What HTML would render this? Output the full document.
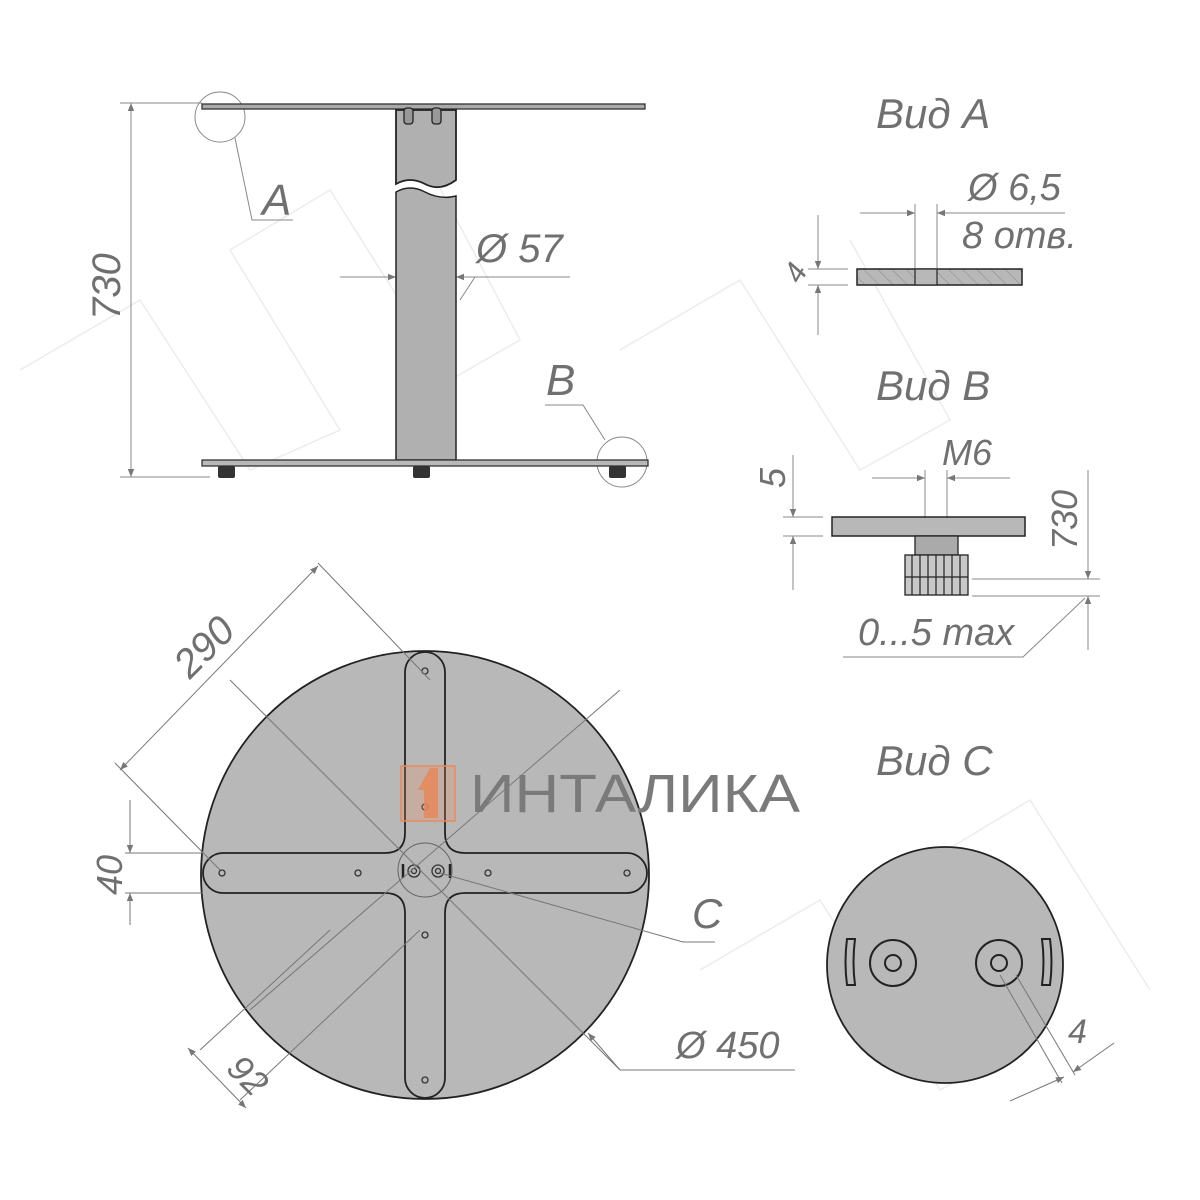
<!DOCTYPE html>
<html><head><meta charset="utf-8"><style>
html,body{margin:0;padding:0;background:#fff;}
svg{display:block;}
.t{font-family:"Liberation Sans","DejaVu Sans",sans-serif;font-style:italic;fill:#707070;}
</style></head><body>
<svg width="1200" height="1200" viewBox="0 0 1200 1200" xmlns="http://www.w3.org/2000/svg">
<defs>
<marker id="ar" viewBox="0 0 10 10" refX="10" refY="5" markerWidth="14" markerHeight="8" markerUnits="userSpaceOnUse" orient="auto-start-reverse"><path d="M0,1 L10,5 L0,9 z" fill="#777"/></marker>
<pattern id="hatch" width="10" height="10" patternUnits="userSpaceOnUse" patternTransform="rotate(-45)"><rect width="10" height="10" fill="#b8b8b8"/><line x1="0" y1="0" x2="0" y2="10" stroke="#888" stroke-width="1"/></pattern>
</defs>
<g stroke="#ececec" stroke-width="1.5" fill="none">
<path d="M20,370 L140,300 L250,470 L340,430 L230,250 L330,190 L450,380 L520,340 L420,150"/>
<path d="M620,350 L740,280 L860,470 L950,420 L850,240"/>
<path d="M700,970 L820,900 L940,1090 L1030,1040 L930,860 L1030,800 L1150,990"/>
</g>
<!-- ===== Side view ===== -->
<g stroke="#888" stroke-width="1" fill="none">
<line x1="120" y1="103" x2="202" y2="103"/>
<line x1="120" y1="477" x2="210" y2="477"/>
<line x1="131" y1="103" x2="131" y2="477" marker-start="url(#ar)" marker-end="url(#ar)"/>
<line x1="340" y1="277" x2="396" y2="277" marker-end="url(#ar)"/>
<line x1="570" y1="277" x2="456" y2="277" marker-end="url(#ar)"/>
<line x1="396" y1="277" x2="456" y2="277"/>
<line x1="475" y1="277" x2="460" y2="300"/>
<circle cx="220" cy="117" r="25"/>
<polyline points="235,138 252,220 293,220"/>
<circle cx="622" cy="462" r="25"/>
<polyline points="605,440 583,405 545,405"/>
</g>
<rect x="202" y="104" width="443" height="5" fill="#aaa" stroke="#333" stroke-width="1.3"/>
<path d="M396,110 L456,110 L456,180 Q440,192 425,184 Q410,176 396,184 Z" fill="#b0b0b0" stroke="#222" stroke-width="1.8"/>
<path d="M396,192 Q410,184 425,192 Q440,200 456,196 L456,460 L396,460 Z" fill="#b0b0b0" stroke="#222" stroke-width="1.5"/>
<rect x="404" y="108" width="9" height="16" rx="3" fill="#999" stroke="#222" stroke-width="1.3"/>
<rect x="432" y="108" width="9" height="16" rx="3" fill="#999" stroke="#222" stroke-width="1.3"/>
<rect x="202" y="460" width="446" height="6" fill="#b8b8b8" stroke="#333" stroke-width="1.3"/>
<g fill="#333"><rect x="218" y="466" width="17" height="12" rx="2"/><rect x="413" y="466" width="17" height="12" rx="2"/><rect x="609" y="466" width="17" height="12" rx="2"/></g>
<text class="t" x="0" y="0" font-size="40" transform="translate(120,320) rotate(-90)">730</text>
<text class="t" x="262" y="215" font-size="44">A</text>
<text class="t" x="546" y="395" font-size="44">B</text>
<text class="t" x="476" y="262" font-size="40">Ø 57</text>
<!-- ===== Вид А ===== -->
<text class="t" x="876" y="128" font-size="42">Вид А</text>
<g stroke="#888" stroke-width="1" fill="none">
<line x1="860" y1="213" x2="915" y2="213" marker-end="url(#ar)"/>
<line x1="1065" y1="213" x2="937" y2="213" marker-end="url(#ar)"/>
<line x1="915" y1="204" x2="915" y2="268"/><line x1="937" y1="204" x2="937" y2="268"/>
<line x1="808" y1="269" x2="848" y2="269"/><line x1="808" y1="285" x2="848" y2="285"/>
<line x1="818" y1="215" x2="818" y2="269" marker-end="url(#ar)"/>
<line x1="818" y1="335" x2="818" y2="285" marker-end="url(#ar)"/>
</g>
<rect x="857" y="269" width="165" height="16" fill="url(#hatch)" stroke="#222" stroke-width="1.5"/>
<rect x="915" y="269" width="22" height="16" fill="#b8b8b8" stroke="#222" stroke-width="1.2"/>
<text class="t" x="968" y="200" font-size="38">Ø 6,5</text>
<text class="t" x="962" y="248" font-size="38">8 отв.</text>
<text class="t" x="0" y="0" font-size="30" transform="translate(800,285) rotate(-60)">4</text>
<!-- ===== Вид B ===== -->
<text class="t" x="876" y="400" font-size="42">Вид B</text>
<g stroke="#888" stroke-width="1" fill="none">
<line x1="872" y1="478" x2="925" y2="478" marker-end="url(#ar)"/>
<line x1="1010" y1="478" x2="947" y2="478" marker-end="url(#ar)"/>
<line x1="925" y1="470" x2="925" y2="517"/><line x1="947" y1="470" x2="947" y2="517"/>
<line x1="783" y1="517" x2="823" y2="517"/><line x1="783" y1="536" x2="823" y2="536"/>
<line x1="793" y1="455" x2="793" y2="517" marker-end="url(#ar)"/>
<line x1="793" y1="590" x2="793" y2="536" marker-end="url(#ar)"/>
<line x1="972" y1="579" x2="1100" y2="579"/><line x1="972" y1="596" x2="1100" y2="596"/>
<line x1="1088" y1="470" x2="1088" y2="579" marker-end="url(#ar)"/>
<line x1="1088" y1="650" x2="1088" y2="596" marker-end="url(#ar)"/>
<polyline points="843,657 1023,657 1085,598"/>
</g>
<rect x="832" y="517" width="193" height="19" fill="#b8b8b8" stroke="#222" stroke-width="1.5"/>
<rect x="915" y="536" width="43" height="19" fill="#aaa" stroke="#222" stroke-width="1.3"/>
<rect x="905" y="555" width="63" height="40" fill="#c8c8c8" stroke="#222" stroke-width="1.3"/>
<g stroke="#222" stroke-width="1.2"><line x1="912" y1="555" x2="912" y2="595"/><line x1="920" y1="555" x2="920" y2="595"/><line x1="928" y1="555" x2="928" y2="595"/><line x1="936" y1="555" x2="936" y2="595"/><line x1="944" y1="555" x2="944" y2="595"/><line x1="952" y1="555" x2="952" y2="595"/><line x1="960" y1="555" x2="960" y2="595"/><line x1="905" y1="577" x2="968" y2="577"/></g>
<text class="t" x="942" y="465" font-size="36">M6</text>
<text class="t" x="0" y="0" font-size="36" transform="translate(785,488) rotate(-90)">5</text>
<text class="t" x="0" y="0" font-size="36" transform="translate(1077,550) rotate(-90)">730</text>
<text class="t" x="858" y="645" font-size="38">0...5 max</text>
<!-- ===== Bottom view ===== -->
<circle cx="425" cy="875" r="224" fill="#b8b8b8" stroke="#222" stroke-width="1.8"/>
<path d="M445,672 L445,833 Q445,853 465,853 L627,853 A20,20 0 0 1 627,893 L465,893 Q445,893 445,913 L445,1078 A20,20 0 0 1 405,1078 L405,913 Q405,893 385,893 L223,893 A20,20 0 0 1 223,853 L385,853 Q405,853 405,833 L405,672 A20,20 0 0 1 445,672 Z" fill="#b8b8b8" stroke="#222" stroke-width="1.8"/>
<circle cx="425" cy="870" r="27" fill="none" stroke="#666" stroke-width="1"/>
<g fill="none" stroke="#333" stroke-width="1.3">
<circle cx="425" cy="671" r="3"/><circle cx="425" cy="807" r="3"/><circle cx="425" cy="935" r="3"/><circle cx="425" cy="1080" r="3"/>
<circle cx="222" cy="873" r="3"/><circle cx="358" cy="873" r="3"/><circle cx="488" cy="873" r="3"/><circle cx="627" cy="873" r="3"/>
<circle cx="414" cy="871" r="6"/><circle cx="414" cy="871" r="2.5"/><circle cx="438" cy="871" r="6"/><circle cx="438" cy="871" r="2.5"/>
</g>
<g stroke="#222" stroke-width="2.5"><line x1="403" y1="864" x2="403" y2="878"/><line x1="450" y1="864" x2="450" y2="878"/></g>
<g stroke="#777" stroke-width="1" fill="none">
<line x1="318" y1="563" x2="430" y2="680"/>
<line x1="115" y1="763" x2="220" y2="870"/>
<line x1="120" y1="770" x2="318" y2="566" marker-start="url(#ar)" marker-end="url(#ar)"/>
<line x1="230" y1="680" x2="620" y2="1070"/>
<line x1="250" y1="1010" x2="620" y2="690"/>
<line x1="200" y1="1050" x2="330" y2="930"/>
<line x1="240" y1="1100" x2="420" y2="930"/>
<line x1="188" y1="1048" x2="246" y2="1108" marker-start="url(#ar)" marker-end="url(#ar)"/>
<line x1="125" y1="853" x2="203" y2="853"/><line x1="125" y1="893" x2="203" y2="893"/>
<line x1="130" y1="800" x2="130" y2="853" marker-end="url(#ar)"/>
<line x1="130" y1="925" x2="130" y2="893" marker-end="url(#ar)"/>
<line x1="440" y1="873" x2="683" y2="942"/><line x1="683" y1="942" x2="715" y2="942"/>
<line x1="620" y1="1070" x2="588" y2="1033" marker-end="url(#ar)"/>
<line x1="620" y1="1070" x2="795" y2="1070"/>
</g>
<text class="t" x="0" y="0" font-size="40" transform="translate(190,680) rotate(-45)">290</text>
<text class="t" x="0" y="0" font-size="36" transform="translate(122,895) rotate(-90)">40</text>
<text class="t" x="0" y="0" font-size="36" transform="translate(225,1070) rotate(45)">92</text>
<text class="t" x="692" y="928" font-size="42">C</text>
<text class="t" x="676" y="1058" font-size="38">Ø 450</text>
<!-- logo -->
<rect x="401" y="766" width="54" height="55" fill="rgba(240,140,90,0.25)" stroke="#e88a5a" stroke-width="1.5"/>
<path d="M418,790 L430,768 L438,768 L438,818 L424,818 L424,790 Z" fill="#e8875a" opacity="0.85"/>
<text x="470" y="812" font-family="Liberation Sans, DejaVu Sans, sans-serif" font-size="54" fill="#7a7a7a" textLength="330" lengthAdjust="spacingAndGlyphs">ИНТАЛИКА</text>
<!-- ===== Вид C ===== -->
<text class="t" x="876" y="775" font-size="42">Вид С</text>
<circle cx="945" cy="965" r="118" fill="#b8b8b8" stroke="#222" stroke-width="1.8"/>
<g fill="none" stroke="#222" stroke-width="2">
<circle cx="893" cy="963" r="23"/><circle cx="893" cy="963" r="8"/>
<circle cx="999" cy="963" r="23"/><circle cx="999" cy="963" r="8"/>
<path d="M847,939 L855,939 Q852,962 855,985 L847,985 Q844,962 847,939 Z"/>
<path d="M1042,939 L1050,939 Q1053,962 1050,985 L1042,985 Q1045,962 1042,939 Z"/>
</g>
<g stroke="#777" stroke-width="1" fill="none">
<line x1="1000" y1="975" x2="1062" y2="1083"/>
<line x1="1016" y1="975" x2="1075" y2="1075"/>
<line x1="1010" y1="1101" x2="1064" y2="1077" marker-end="url(#ar)"/>
<line x1="1114" y1="1043" x2="1073" y2="1072" marker-end="url(#ar)"/>
</g>
<text class="t" x="1068" y="1043" font-size="34">4</text>
</svg>
</body></html>
